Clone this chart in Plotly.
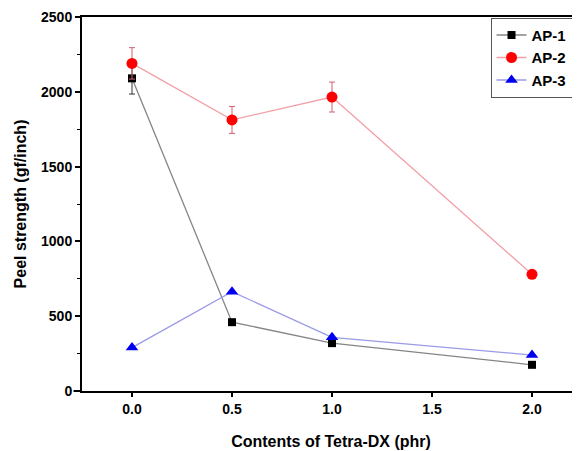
import plotly.graph_objects as go

x_vals = [0.0, 0.5, 1.0, 2.0]
ap1 = [2090, 460, 320, 175]
ap1_err = [105, 0, 0, 0]
ap2 = [2190, 1812, 1965, 780]
ap2_err = [105, 90, 100, 20]
ap3 = [290, 664, 359, 240]
series_names = ["AP-1", "AP-2", "AP-3"]
x_tickvals = [0, 0.5, 1.0, 1.5, 2.0]
x_ticktext = ["0.0", "0.5", "1.0", "1.5", "2.0"]

font_family = "Liberation Sans, Arial, sans-serif"

fig = go.Figure()
fig.add_trace(go.Scatter(
    x=x_vals, y=ap1, name="<b>" + series_names[0] + "</b>", mode="lines+markers",
    line=dict(color="#858585", width=1.3),
    marker=dict(symbol="square", size=8, color="black"),
    error_y=dict(type="data", array=ap1_err, color="#333333", thickness=1, width=3),
))
fig.add_trace(go.Scatter(
    x=x_vals, y=ap2, name="<b>" + series_names[1] + "</b>", mode="lines+markers",
    line=dict(color="#f2a0a8", width=1.3),
    marker=dict(symbol="circle", size=11, color="#ff0000"),
    error_y=dict(type="data", array=ap2_err, color="#d06070", thickness=1, width=3),
))
fig.add_trace(go.Scatter(
    x=x_vals, y=ap3, name="<b>" + series_names[2] + "</b>", mode="lines+markers",
    line=dict(color="#9a9ae8", width=1.3),
    marker=dict(symbol="triangle-up", size=11, color="#0000ee"),
))

# page has an 8px body margin, so the figure is sized 572x443
fig.update_layout(
    width=572, height=443,
    margin=dict(l=74, r=0, t=9, b=60, autoexpand=False),
    plot_bgcolor="white", paper_bgcolor="white",
    font=dict(family=font_family, color="black"),
    showlegend=True,
    legend=dict(
        x=0.985, y=0.998, xanchor="right", yanchor="top",
        bgcolor="white", bordercolor="#555555", borderwidth=1,
        font=dict(size=15, family=font_family),
        tracegroupgap=0, itemwidth=30,
    ),
    xaxis=dict(
        range=[-0.25, 2.24], tickvals=x_tickvals, ticktext=x_ticktext,
        showgrid=False, zeroline=False, automargin=False,
        showline=True, linecolor="black", linewidth=2, mirror=True,
        ticks="outside", ticklen=4, tickwidth=2, tickcolor="black",
        tickfont=dict(size=14, family=font_family, weight="bold"),
        title=dict(text="Contents of Tetra-DX (phr)", standoff=20,
                   font=dict(size=16, family=font_family, weight="bold")),
    ),
    yaxis=dict(
        range=[0, 2500], dtick=500,
        showgrid=False, zeroline=False, automargin=False,
        showline=True, linecolor="black", linewidth=2,
        ticks="outside", ticklen=5, tickwidth=2, tickcolor="black",
        minor=dict(dtick=250, ticks="outside", ticklen=3, tickwidth=1, tickcolor="black"),
        tickfont=dict(size=14, family=font_family, weight="bold"),
        title=dict(text="Peel strength (gf/inch)", standoff=10,
                   font=dict(size=16, family=font_family, weight="bold")),
    ),
)

# small extension of the x axis line past the y axis, as in the original
fig.add_shape(type="line", xref="paper", yref="paper", x0=-0.017, x1=0, y0=0, y1=0,
              line=dict(color="black", width=2), layer="above")

fig.write_html("out.html")
